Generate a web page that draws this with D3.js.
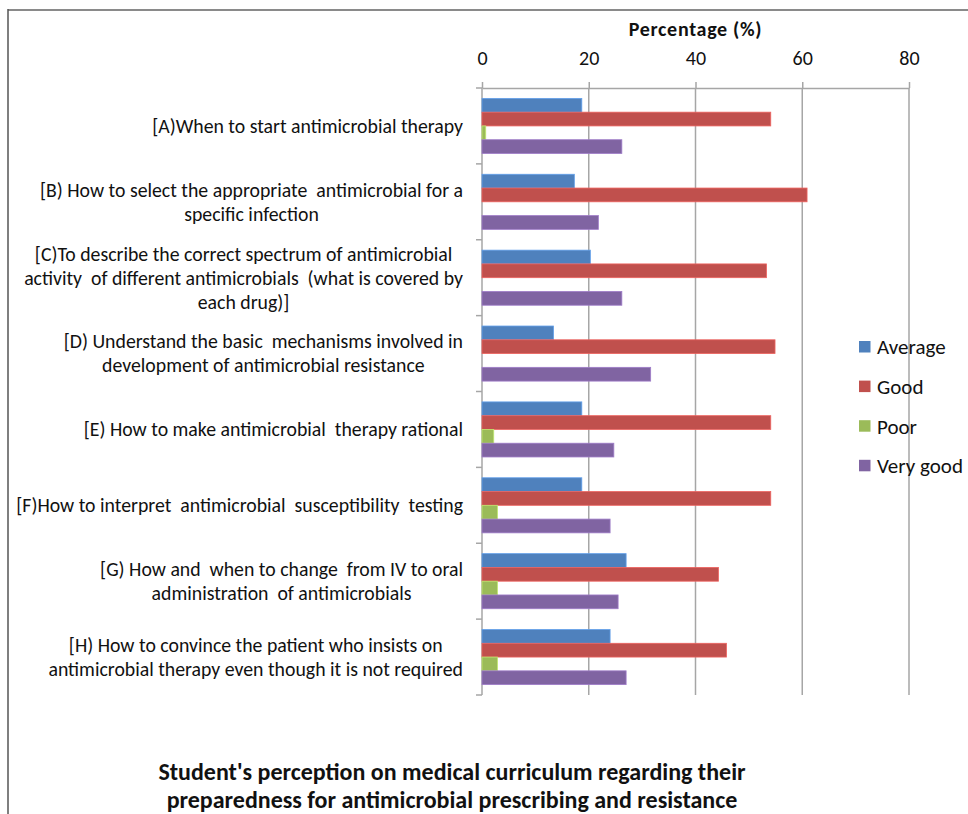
<!DOCTYPE html>
<html><head><meta charset="utf-8">
<script src="https://cdn.jsdelivr.net/npm/d3@7"></script>
<style>
html,body{margin:0;padding:0;background:#fff;}
text{font-family:Carlito,Lato,"Open Sans",sans-serif;}
</style></head>
<body><svg id="chart" width="968" height="814"></svg>
<script>
const categories = [
  ["[A)When to start antimicrobial therapy"],
  ["[B) How to select the appropriate  antimicrobial for a", "specific infection"],
  ["[C)To describe the correct spectrum of antimicrobial", "activity  of different antimicrobials  (what is covered by", "each drug)]"],
  ["[D) Understand the basic  mechanisms involved in", "development of antimicrobial resistance"],
  ["[E) How to make antimicrobial  therapy rational"],
  ["[F)How to interpret  antimicrobial  susceptibility  testing"],
  ["[G) How and  when to change  from IV to oral", "administration  of antimicrobials"],
  ["[H) How to convince the patient who insists on", "antimicrobial therapy even though it is not required"]
];
const seriesNames = ["Average", "Good", "Poor", "Very good"];
const seriesColors = ["#4F81BD", "#C0504D", "#9BBB59", "#8064A2"];
const average  = [18.7, 17.3, 20.3, 13.4, 18.7, 18.7, 27.0, 24.0];
const good     = [54.1, 60.9, 53.3, 54.9, 54.1, 54.1, 44.3, 45.8];
const poor     = [0.7, 0, 0, 0, 2.2, 2.9, 2.9, 2.9];
const veryGood = [26.2, 21.8, 26.2, 31.6, 24.7, 24.0, 25.5, 27.0];
const xTicks = [0, 20, 40, 60, 80];
const xTitle = "Percentage (%)";
const chartTitle = ["Student's perception on medical curriculum regarding their", "preparedness for antimicrobial prescribing and resistance"];

const seriesValues = [average, good, poor, veryGood];
const svg = d3.select("#chart");

// frame
svg.append("line").attr("x1",8).attr("x2",968).attr("y1",10).attr("y2",10).attr("stroke","#8a8a8a").attr("stroke-width",2);
svg.append("line").attr("x1",8).attr("x2",8).attr("y1",9).attr("y2",814).attr("stroke","#555").attr("stroke-width",1.5);

const x = d3.scaleLinear().domain([0, 80]).range([482, 909]);
const idx = d3.range(categories.length);
const y0 = d3.scaleBand().domain(idx).range([88, 695]).padding(0);
const bw = y0.bandwidth();
const y1 = d3.scaleBand().domain(d3.range(seriesNames.length)).range([bw*0.137, bw*0.863]).padding(0);

// gridlines
svg.append("g").selectAll("line").data(xTicks.slice(1)).join("line")
  .attr("x1", d=>x(d)).attr("x2", d=>x(d)).attr("y1", 88).attr("y2", 695)
  .attr("stroke", "#a6a6a6").attr("stroke-width", 1.5);

// top axis
const xAxis = d3.axisTop(x).tickValues(xTicks).tickSize(6).tickPadding(17).tickSizeOuter(0);
const gx = svg.append("g").attr("transform", "translate(0,88)").call(xAxis);
gx.select(".domain").attr("stroke", "#a6a6a6").attr("stroke-width", 1.5);
gx.selectAll(".tick line").attr("stroke", "#a6a6a6").attr("stroke-width", 1.5);
gx.selectAll(".tick text").attr("font-size", 20).attr("fill", "#111").style("font-family","Carlito,Lato,sans-serif");

svg.append("text").attr("x", 695.5).attr("y", 36).attr("text-anchor", "middle")
  .attr("font-size", 20).attr("font-weight", "bold").attr("letter-spacing", 0.7).attr("fill", "#111").text(xTitle);

// left axis
svg.append("line").attr("x1", 482).attr("x2", 482).attr("y1", 88).attr("y2", 695).attr("stroke", "#a6a6a6").attr("stroke-width", 1.5);
svg.append("g").selectAll("line").data(d3.range(categories.length + 1)).join("line")
  .attr("x1", 476).attr("x2", 482)
  .attr("y1", d => d < categories.length ? y0(d) : 695)
  .attr("y2", d => d < categories.length ? y0(d) : 695)
  .attr("stroke", "#a6a6a6").attr("stroke-width", 1.5);

// bars
const groups = svg.append("g").selectAll("g").data(idx).join("g")
  .attr("transform", d => `translate(0,${y0(d)})`);
groups.selectAll("rect").data(i => seriesValues.map((vals, s) => ({s, v: vals[i]})).filter(d => d.v > 0)).join("rect")
  .attr("x", x(0)).attr("y", d => y1(d.s))
  .attr("width", d => x(d.v) - x(0)).attr("height", y1.bandwidth())
  .attr("fill", d => seriesColors[d.s])
  .attr("stroke", d => d3.color(seriesColors[d.s]).brighter(0.6)).attr("stroke-width", 0.8);

// category labels
const lineH = 24;
idx.forEach(i => {
  const lines = categories[i];
  const g = svg.append("g");
  const cy = y0(i) + bw / 2;
  const texts = lines.map((ln, k) => g.append("text")
    .attr("y", cy + (k - (lines.length - 1) / 2) * lineH)
    .attr("dy", "0.35em").attr("font-size", 19.8).attr("fill", "#111")
    .attr("text-anchor", "middle").style("white-space", "pre").text(ln));
  const maxW = d3.max(texts, t => t.node().getComputedTextLength());
  const cx = 463 - maxW / 2;
  texts.forEach(t => t.attr("x", cx));
});

// legend
const leg = svg.append("g").selectAll("g").data(seriesNames).join("g")
  .attr("transform", (d, i) => `translate(859,${341 + i * 39.6})`);
leg.append("rect").attr("width", 11.5).attr("height", 11.5).attr("fill", (d, i) => seriesColors[i]);
leg.append("text").attr("x", 18).attr("y", 6).attr("dy", "0.35em").attr("font-size", 21).attr("fill", "#111").text(d => d);

// chart title
svg.append("g").selectAll("text").data(chartTitle).join("text")
  .attr("x", 452).attr("y", (d, i) => 780 + i * 28).attr("text-anchor", "middle")
  .attr("font-size", 24).attr("font-weight", "bold").attr("fill", "#111").text(d => d);
</script></body></html>
